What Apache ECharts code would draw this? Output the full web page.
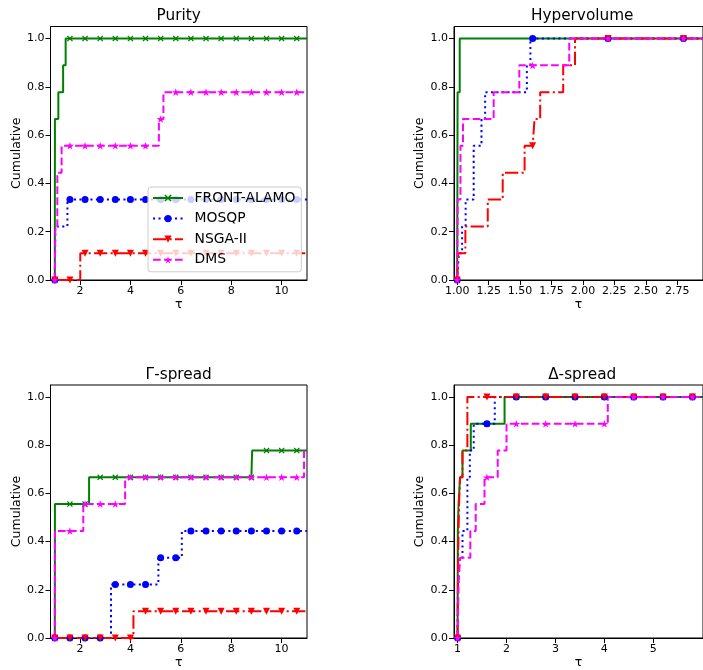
<!DOCTYPE html>
<html>
<head>
<meta charset="utf-8">
<script src="https://cdn.jsdelivr.net/npm/echarts@6/dist/echarts.min.js"></script>
<style>
  html, body { margin: 0; padding: 0; background: #ffffff; }
  #chart { width: 703px; height: 670px; }
</style>
</head>
<body>
<div id="chart"></div>
<script>
// Solvers, in plotting order
const solvers = ['FRONT-ALAMO', 'MOSQP', 'NSGA-II', 'DMS'];
const panelTitles = ['Purity', 'Hypervolume', 'Γ-spread', 'Δ-spread'];

// Performance-profile breakpoints: [tau, fraction of problems] where a curve steps up
const purityAlamo = [[1.005, 0.667], [1.14, 0.778], [1.33, 0.889], [1.43, 1.0]];
const purityMosqp = [[1.02, 0.222], [1.5, 0.333]];
const purityNsga  = [[2.01, 0.111]];
const purityDms   = [[1.02, 0.222], [1.1, 0.444], [1.27, 0.556], [5.13, 0.667], [5.31, 0.778]];

const hvAlamo = [[1.003, 0.778], [1.02, 1.0]];
const hvMosqp = [[1.013, 0.111], [1.039, 0.222], [1.067, 0.333], [1.131, 0.556], [1.193, 0.667], [1.222, 0.778], [1.554, 0.889], [1.582, 1.0]];
const hvNsga  = [[1.008, 0.111], [1.065, 0.222], [1.243, 0.333], [1.362, 0.444], [1.536, 0.556], [1.615, 0.667], [1.66, 0.778], [1.843, 0.889], [1.937, 1.0]];
const hvDms   = [[1.004, 0.333], [1.026, 0.556], [1.046, 0.667], [1.29, 0.778], [1.494, 0.889], [1.891, 1.0]];

const gammaAlamo = [[1.005, 0.556], [2.36, 0.667], [8.83, 0.778]];
const gammaMosqp = [[3.23, 0.222], [5.11, 0.333], [6.04, 0.444]];
const gammaNsga  = [[4.12, 0.111]];
const gammaDms   = [[1.005, 0.444], [2.13, 0.556], [3.79, 0.667], [10.89, 0.778]];

const deltaAlamo = [[1.005, 0.444], [1.02, 0.556], [1.05, 0.667], [1.1, 0.778], [1.27, 0.889], [1.96, 1.0]];
const deltaMosqp = [[1.01, 0.222], [1.04, 0.333], [1.1, 0.444], [1.2, 0.667], [1.25, 0.778], [1.33, 0.889], [1.76, 1.0]];
const deltaNsga  = [[1.01, 0.333], [1.03, 0.556], [1.05, 0.667], [1.1, 0.778], [1.2, 1.0]];
const deltaDms   = [[1.02, 0.222], [1.05, 0.333], [1.26, 0.444], [1.37, 0.556], [1.55, 0.667], [1.82, 0.778], [2.0, 0.889], [4.07, 1.0]];

// Tau values at which markers are placed along each curve
const marksWide  = [1.0, 1.6, 2.2, 2.8, 3.4, 4.0, 4.6, 5.2, 5.8, 6.4, 7.0, 7.6, 8.2, 8.8, 9.4, 10.0, 10.6];
const marksHv    = [1.0, 1.6, 2.2, 2.8];
const marksDelta = [1.0, 1.6, 2.2, 2.8, 3.4, 4.0, 4.6, 5.2, 5.8];

// Axis ranges and tick labels
const purityRange = [0.829, 11.007];
const hvRange     = [0.9745, 2.955];
const gammaRange  = [0.829, 11.007];
const deltaRange  = [0.9266, 6.016];
const purityXTicks = [2, 4, 6, 8, 10];
const hvXTicks     = [1.00, 1.25, 1.50, 1.75, 2.00, 2.25, 2.50, 2.75];
const gammaXTicks  = [2, 4, 6, 8, 10];
const deltaXTicks  = [1, 2, 3, 4, 5];
const yTicks = [0.0, 0.2, 0.4, 0.6, 0.8, 1.0];

// ---- styling ----
const FONT = 'DejaVu Sans';
const colors = ['#008000', '#0000ff', '#ff0000', '#ff00ff'];
const dashes = ['solid', [2.1, 3.4], [13.3, 3.3, 2.1, 3.3], [7.7, 3.3]];
const SYM_X = 'path://M0,1.5L1.5,0L5,3.5L8.5,0L10,1.5L6.5,5L10,8.5L8.5,10L5,6.5L1.5,10L0,8.5L3.5,5Z';
const SYM_TRI_DOWN = 'path://M0,0L10,0L5,10Z';
const SYM_STAR = 'path://M50,0L61.23,34.55L97.55,34.55L68.16,55.9L79.39,90.45L50,69.1L20.61,90.45L31.84,55.9L2.45,34.55L38.77,34.55Z';
const symbols = [SYM_X, 'circle', SYM_TRI_DOWN, SYM_STAR];
const symSizes = [6, 7, 7, 8];

const layout = [
  { left: 50.5, top: 26.5, width: 256.5, height: 253.5, titleX: 178.7, titleY: 16.5 },
  { left: 454,  top: 26.5, width: 256.5, height: 253.5, titleX: 582.2, titleY: 16.5 },
  { left: 50.5, top: 385,  width: 256.5, height: 254,   titleX: 178.7, titleY: 375 },
  { left: 454,  top: 385,  width: 256.5, height: 254,   titleX: 582.2, titleY: 375 }
];

const panels = [
  { range: purityRange, xTicks: purityXTicks, digits: 0, marks: marksWide,  curves: [purityAlamo, purityMosqp, purityNsga, purityDms] },
  { range: hvRange,     xTicks: hvXTicks,     digits: 2, marks: marksHv,    curves: [hvAlamo, hvMosqp, hvNsga, hvDms] },
  { range: gammaRange,  xTicks: gammaXTicks,  digits: 0, marks: marksWide,  curves: [gammaAlamo, gammaMosqp, gammaNsga, gammaDms] },
  { range: deltaRange,  xTicks: deltaXTicks,  digits: 0, marks: marksDelta, curves: [deltaAlamo, deltaMosqp, deltaNsga, deltaDms] }
];

// Turn breakpoints into step-line points; marker positions carry a symbol, breakpoints do not
function profileData(breaks, marks, xEnd) {
  const level = t => { let v = 0; for (const b of breaks) if (b[0] <= t) v = b[1]; return v; };
  const xs = new Map();
  breaks.forEach(b => xs.set(b[0], false));
  marks.forEach(m => xs.set(m, true));
  if (!xs.has(xEnd)) xs.set(xEnd, false);
  return [...xs.keys()].sort((a, b) => a - b).map(x => {
    const item = { value: [x, level(x)] };
    if (!xs.get(x)) item.symbol = 'none';
    return item;
  });
}

const tickLabelStyle = { color: '#000', fontFamily: FONT, fontSize: 11 };
const nameStyle = { color: '#000', fontFamily: FONT, fontSize: 12.5 };

const grid = layout.map(g => ({
  left: g.left, top: g.top, width: g.width, height: g.height,
  show: true, borderColor: '#000', borderWidth: 1, backgroundColor: 'transparent'
}));

const xAxis = panels.map((p, k) => ({
  type: 'value', gridIndex: k, min: p.range[0], max: p.range[1],
  name: 'τ', nameLocation: 'middle', nameGap: 18, nameTextStyle: nameStyle,
  axisLine: { show: true, onZero: false, lineStyle: { color: '#000', width: 1 } },
  axisTick: { show: true, length: 5, customValues: p.xTicks, lineStyle: { color: '#000', width: 1 } },
  axisLabel: Object.assign({ customValues: p.xTicks, margin: 6,
    formatter: v => Number(v).toFixed(p.digits) }, tickLabelStyle),
  splitLine: { show: false }
}));

const yAxis = panels.map((p, k) => ({
  type: 'value', gridIndex: k, min: 0, max: 1.05,
  name: 'Cumulative', nameLocation: 'middle', nameGap: 27, nameTextStyle: nameStyle,
  axisLine: { show: true, onZero: false, lineStyle: { color: '#000', width: 1 } },
  axisTick: { show: true, length: 5, customValues: yTicks, lineStyle: { color: '#000', width: 1 } },
  axisLabel: Object.assign({ customValues: yTicks, margin: 6,
    formatter: v => Number(v).toFixed(1) }, tickLabelStyle),
  splitLine: { show: false }
}));

const series = [];
panels.forEach((p, k) => {
  p.curves.forEach((c, s) => {
    series.push({
      type: 'line', name: solvers[s], xAxisIndex: k, yAxisIndex: k,
      step: 'end',
      data: profileData(c, p.marks, p.range[1]),
      symbol: symbols[s], symbolSize: symSizes[s], symbolKeepAspect: true,
      showSymbol: true, showAllSymbol: true,
      lineStyle: { color: colors[s], width: 2, type: dashes[s] },
      itemStyle: { color: colors[s] },
      emphasis: { disabled: true },
      silent: true, animation: false
    });
  });
});

const graphic = layout.map((g, k) => ({
  type: 'text', x: g.titleX, y: g.titleY, silent: true,
  style: { text: panelTitles[k], fill: '#000', fontFamily: FONT, fontSize: 15.3,
    align: 'center', verticalAlign: 'middle' }
}));

const chart = echarts.init(document.getElementById('chart'), null, { renderer: 'canvas' });
chart.setOption({
  animation: false,
  backgroundColor: '#ffffff',
  textStyle: { fontFamily: FONT },
  grid, xAxis, yAxis, series, graphic,
  legend: {
    data: solvers, orient: 'vertical', left: 148, top: 187,
    itemWidth: 30, itemHeight: 9, itemGap: 6.6,
    padding: [4, 6, 5, 4],
    backgroundColor: 'rgba(255,255,255,0.8)', borderColor: '#cccccc', borderWidth: 1, borderRadius: 3,
    textStyle: { fontFamily: FONT, fontSize: 13.9, color: '#000', lineHeight: 14, padding: [0, 0, 0, 6.5] },
    selectedMode: false
  }
});
</script>
</body>
</html>
